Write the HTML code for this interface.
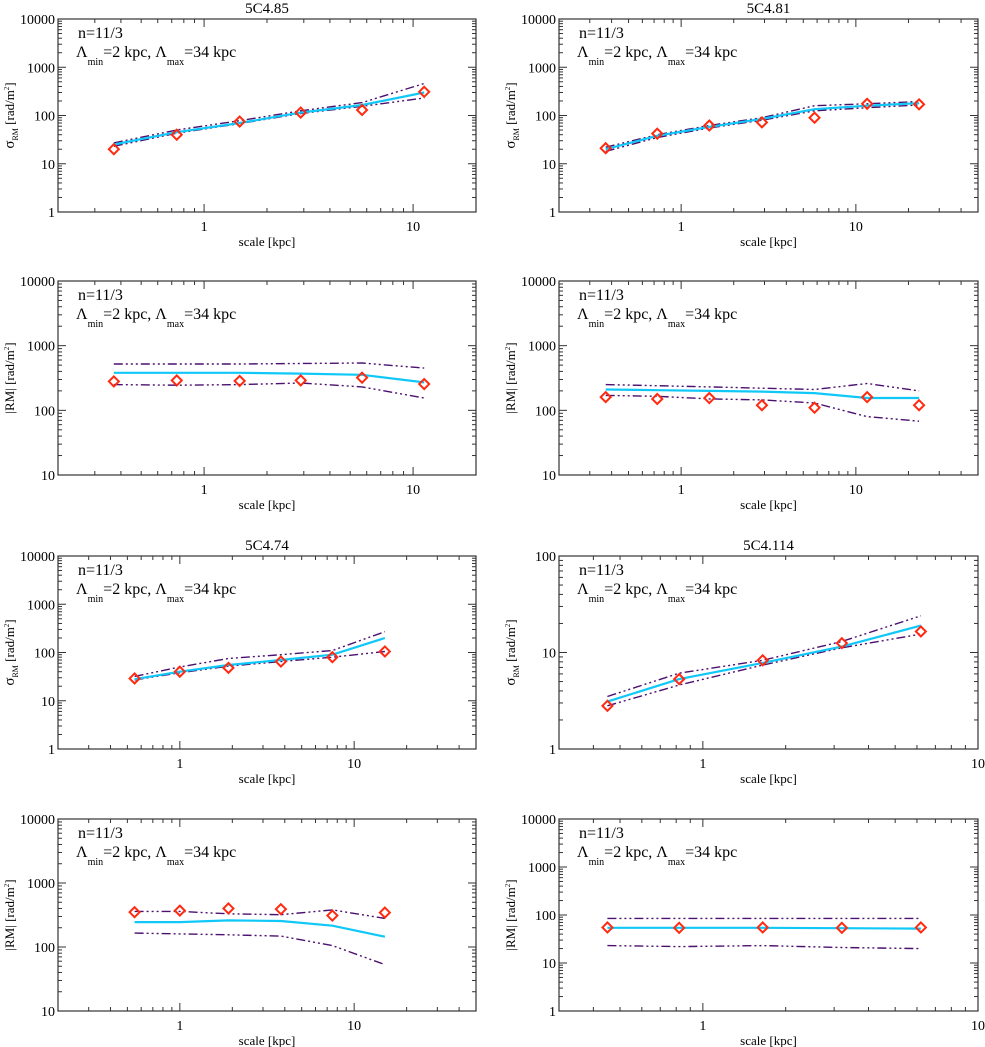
<!DOCTYPE html>
<html><head><meta charset="utf-8">
<style>
html,body{margin:0;padding:0;background:#fff;}
svg{display:block;font-family:"Liberation Serif",serif;}
</style></head>
<body>
<svg id="fig" width="985" height="1047" viewBox="0 0 985 1047"></svg>
<script>
// ---- data ----
const p1X=[0.37,0.74,1.48,2.9,5.7,11.3];
const p1Obs=[20,40,75,115,130,310];
const p1Mod=[25,45,70,115,165,300];
const p1Up=[27,50,78,125,185,460];
const p1Lo=[23,43,68,110,155,230];

const p2X=[0.37,0.73,1.45,2.9,5.8,11.6,23];
const p2Obs=[21,42,62,72,90,175,170];
const p2Mod=[20,38,58,85,135,160,180];
const p2Up=[22,40,62,90,160,175,195];
const p2Lo=[18,35,55,80,125,145,165];

const p3X=[0.37,0.74,1.48,2.9,5.7,11.3];
const p3Obs=[280,290,285,290,320,255];
const p3Mod=[380,380,380,370,355,270];
const p3Up=[520,520,520,530,540,450];
const p3Lo=[250,245,250,265,230,155];

const p4X=[0.37,0.73,1.45,2.9,5.8,11.6,23];
const p4Obs=[160,150,155,120,110,160,120];
const p4Mod=[210,205,200,195,185,155,155];
const p4Up=[250,240,230,220,210,260,200];
const p4Lo=[170,165,150,145,130,80,68];

const p5X=[0.55,1.0,1.9,3.8,7.5,15];
const p5Obs=[29,40,48,65,80,105];
const p5Mod=[28,40,55,70,90,200];
const p5Up=[32,50,75,90,110,270];
const p5Lo=[27,38,52,65,80,105];

const p6X=[0.45,0.82,1.65,3.2,6.2];
const p6Obs=[2.8,5.3,8.3,12.5,16.5];
const p6Mod=[3.1,5.3,7.8,11.5,19];
const p6Up=[3.5,6.1,8.3,13,24];
const p6Lo=[2.8,4.6,7.4,11.2,15.5];

const p7X=[0.55,1.0,1.9,3.8,7.5,15];
const p7Obs=[350,370,400,390,310,345];
const p7Mod=[245,245,260,255,215,145];
const p7Up=[360,360,330,320,380,280];
const p7Lo=[165,160,155,148,105,53];

const p8X=[0.45,0.82,1.65,3.2,6.2];
const p8Obs=[55,54,55,54,55];
const p8Mod=[54,54,54,53,52];
const p8Up=[85,85,85,85,85];
const p8Lo=[23,22,23,21,20];

const xTickLabels=[1,10];

const panels=[
 {id:'p1',title:'5C4.85',x0:58,x1:476,y0:19,y1:212,xr:[0.2,20],yr:[1,10000],yl:'sigma',X:p1X,O:p1Obs,M:p1Mod,U:p1Up,L:p1Lo},
 {id:'p2',title:'5C4.81',x0:559,x1:978,y0:19,y1:212,xr:[0.2,50],yr:[1,10000],yl:'sigma',X:p2X,O:p2Obs,M:p2Mod,U:p2Up,L:p2Lo},
 {id:'p3',title:'',x0:58,x1:476,y0:281,y1:475,xr:[0.2,20],yr:[10,10000],yl:'rm',X:p3X,O:p3Obs,M:p3Mod,U:p3Up,L:p3Lo},
 {id:'p4',title:'',x0:559,x1:978,y0:281,y1:475,xr:[0.2,50],yr:[10,10000],yl:'rm',X:p4X,O:p4Obs,M:p4Mod,U:p4Up,L:p4Lo},
 {id:'p5',title:'5C4.74',x0:58,x1:476,y0:556,y1:749,xr:[0.2,50],yr:[1,10000],yl:'sigma',X:p5X,O:p5Obs,M:p5Mod,U:p5Up,L:p5Lo},
 {id:'p6',title:'5C4.114',x0:559,x1:978,y0:556,y1:749,xr:[0.3,10],yr:[1,100],yl:'sigma',X:p6X,O:p6Obs,M:p6Mod,U:p6Up,L:p6Lo},
 {id:'p7',title:'',x0:58,x1:476,y0:819,y1:1011,xr:[0.2,50],yr:[10,10000],yl:'rm',X:p7X,O:p7Obs,M:p7Mod,U:p7Up,L:p7Lo},
 {id:'p8',title:'',x0:559,x1:978,y0:819,y1:1011,xr:[0.3,10],yr:[1,10000],yl:'rm',X:p8X,O:p8Obs,M:p8Mod,U:p8Up,L:p8Lo}
];

const NS='http://www.w3.org/2000/svg';
const svg=document.getElementById('fig');
function mk(tag,attrs,parent){const e=document.createElementNS(NS,tag);for(const k in attrs)e.setAttribute(k,attrs[k]);(parent||svg).appendChild(e);return e;}

panels.forEach(p=>{
  const g=mk('g',{});
  
  
  const lx0=Math.log10(p.xr[0]),lx1=Math.log10(p.xr[1]);
  const ly0=Math.log10(p.yr[0]),ly1=Math.log10(p.yr[1]);
  const sx=v=>p.x0+(Math.log10(v)-lx0)/(lx1-lx0)*(p.x1-p.x0);
  const sy=v=>p.y1-(Math.log10(v)-ly0)/(ly1-ly0)*(p.y1-p.y0);
  const tk=mk('g',{stroke:'#333','stroke-width':1},g);
  
  
  for(let d=Math.floor(lx0);d<=Math.ceil(lx1);d++){
    for(let m=1;m<10;m++){
      const v=m*Math.pow(10,d); if(v<p.xr[0]*0.999||v>p.xr[1]*1.001)continue;
      const x=sx(v),len=m===1?8:4;
      mk('line',{x1:x,y1:p.y1,x2:x,y2:p.y1-len},tk);
      mk('line',{x1:x,y1:p.y0,x2:x,y2:p.y0+len},tk);
    }
  }
  for(let d=Math.floor(ly0);d<=Math.ceil(ly1);d++){
    for(let m=1;m<10;m++){
      const v=m*Math.pow(10,d); if(v<p.yr[0]*0.999||v>p.yr[1]*1.001)continue;
      const y=sy(v),len=m===1?8:4;
      mk('line',{x1:p.x0,y1:y,x2:p.x0+len,y2:y},tk);
      mk('line',{x1:p.x1,y1:y,x2:p.x1-len,y2:y},tk);
    }
    const v=Math.pow(10,d);
    if(v>=p.yr[0]*0.999&&v<=p.yr[1]*1.001){
      const t=mk('text',{x:p.x0-3,y:sy(v)+5,'text-anchor':'end','font-size':14,fill:'#000'},g);
      
      
      t.textContent=String(v);
    }
  }
  xTickLabels.forEach(v=>{
    if(v<p.xr[0]||v>p.xr[1])return;
    const t=mk('text',{x:sx(v),y:p.y1+19,'text-anchor':'middle','font-size':14,fill:'#000'},g);
    
    
    t.textContent=String(v);
  });
  const fr=mk('rect',{x:p.x0,y:p.y0,width:p.x1-p.x0,height:p.y1-p.y0,fill:'none',stroke:'#333','stroke-width':1.2},g);
  
  
  if(p.title){
    const t=mk('text',{x:(p.x0+p.x1)/2,y:p.y0-6,'text-anchor':'middle','font-size':15,fill:'#000'},g);
    
    
    t.textContent=p.title;
  }
  const xl=mk('text',{x:(p.x0+p.x1)/2,y:p.y1+34,'text-anchor':'middle','font-size':13,fill:'#000'},g);
  
  
  xl.textContent='scale [kpc]';
  const cy=(p.y0+p.y1)/2, cx=p.x0-44;
  const yl=mk('text',{x:0,y:0,'text-anchor':'middle','font-size':13,fill:'#000',transform:`translate(${cx},${cy}) rotate(-90)`},g);
  
  
  if(p.yl==='sigma'){
    yl.innerHTML='<tspan font-size="15">σ</tspan><tspan font-size="8" dy="4">RM</tspan><tspan dy="-4"> [rad/m</tspan><tspan font-size="7" dy="-5">2</tspan><tspan dy="5">]</tspan>';
  } else {
    yl.innerHTML='|RM| [rad/m<tspan font-size="7" dy="-5">2</tspan><tspan dy="5">]</tspan>';
  }
  const a1=mk('text',{x:p.x0+20,y:p.y0+19,'font-size':16,fill:'#000'},g);
  
  
  a1.textContent='n=11/3';
  const a2=mk('text',{x:p.x0+18,y:p.y0+38,'font-size':16,fill:'#000'},g);
  
  
  a2.innerHTML='Λ<tspan font-size="10" dy="8">min</tspan><tspan dy="-8">=2 kpc, Λ</tspan><tspan font-size="10" dy="8">max</tspan><tspan dy="-8">=34 kpc</tspan>';
  const pts=arr=>p.X.map((x,i)=>sx(x).toFixed(1)+','+sy(arr[i]).toFixed(1)).join(' ');
  const up=mk('polyline',{points:pts(p.U),fill:'none',stroke:'#4b1070','stroke-width':1.4,'stroke-dasharray':'9,3,2,3,2,3,2,3'},g);
  
  
  const lo=mk('polyline',{points:pts(p.L),fill:'none',stroke:'#4b1070','stroke-width':1.4,'stroke-dasharray':'9,3,2,3,2,3,2,3'},g);
  
  
  const md=mk('polyline',{points:pts(p.M),fill:'none',stroke:'#10c8f8','stroke-width':2.2},g);
  
  
  p.X.forEach((x,i)=>{
    const X=sx(x),Y=sy(p.O[i]),r=5;
    const d=mk('polygon',{points:`${X},${Y-r} ${X+r},${Y} ${X},${Y+r} ${X-r},${Y}`,fill:'none',stroke:'#ff2a10','stroke-width':2},g);
    
    
  });
});
</script>
</body></html>
